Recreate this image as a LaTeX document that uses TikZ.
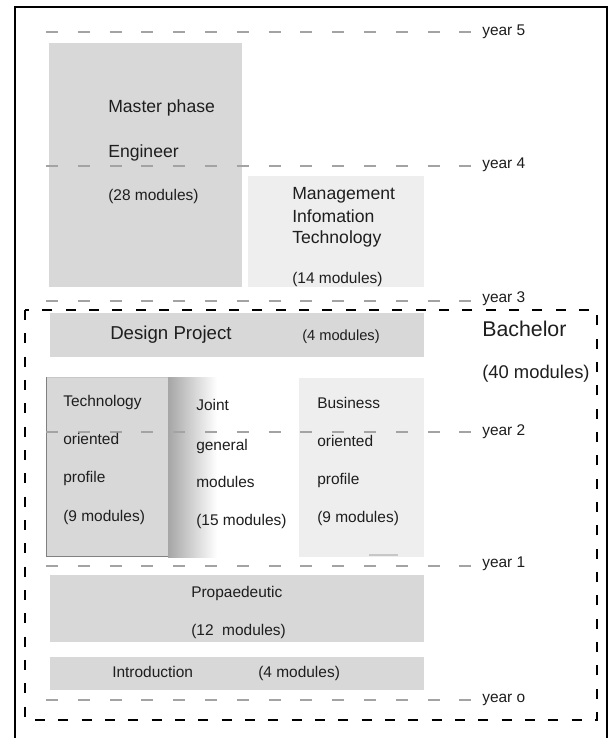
\documentclass[tikz,border=0pt]{standalone}
\usepackage{fontspec}
\setmainfont{Liberation Sans}
\definecolor{boxgray}{HTML}{D8D8D8}
\definecolor{boxlight}{HTML}{EEEEEE}
\definecolor{txt}{HTML}{1E1E1E}
\begin{document}
\begin{tikzpicture}[x=0.75pt,y=-0.75pt,
  lbl/.style={anchor=mid west, inner sep=0pt, yshift=-1.3pt, text=txt, font=\fontsize{11.6}{13}\selectfont},
  big/.style={font=\fontsize{13.2}{15}\selectfont},
  small/.style={font=\fontsize{11}{13}\selectfont},
  yearline/.style={draw=black!36, line width=0.85pt, dash pattern=on 9pt off 14.85pt},
  bachframe/.style={draw=black, line width=1.9pt, dash pattern=on 7.5pt off 10pt},
]
\useasboundingbox (0,0) rectangle (609,738);
\fill[white] (0,0) rectangle (609,738);

% outer frame
\draw[line width=1.5pt] (15,745) -- (15,7) -- (606.5,7) -- (606.5,745);

% module boxes
\fill[boxgray] (49,43) rectangle (242,287);
\fill[boxlight] (248,176) rectangle (424,287);
\fill[boxgray] (50,313) rectangle (424,357);
\fill[boxgray] (46,377) rectangle (168,557);
\shade[left color=black!35, right color=white] (168,377) rectangle (217,557);
\draw[black!50, line width=0.75pt] (46.5,377) -- (46.5,556.5) -- (168,556.5);
\draw[black!22, line width=0.6pt] (46.5,377.5) -- (168,377.5);
\fill[boxlight] (299,378) rectangle (424,557);
\draw[black!22, line width=1.1pt] (369,555) -- (398,555);
\fill[boxgray] (50,575) rectangle (424,642);
\fill[boxgray] (50,657) rectangle (424,690);

% year lines
\foreach \nm/\yy in {y5/32, y4/166, y3/301, y2/432, y1/566, y0/700}{
  \coordinate (\nm s) at (46,\yy);
  \coordinate (\nm e) at (472,\yy);
  \draw[yearline] (\nm s) -- (\nm e);
}

% bachelor frame
\draw[bachframe] (25,310) rectangle (597,720);

% year labels
\node[lbl] (ly5) at (482,30) {year 5};
\node[lbl] (ly4) at (482,163) {year 4};
\node[lbl] (ly3) at (482,297) {year 3};
\node[lbl] (ly2) at (482,430) {year 2};
\node[lbl] (ly1) at (482,562) {year 1};
\node[lbl] (ly0) at (482,697) {year o};

% bachelor label
\node[lbl, font=\fontsize{16}{18}\selectfont] (bach) at (482,331) {Bachelor};
\node[lbl, font=\fontsize{13.8}{16}\selectfont] (bachm) at (482,373) {(40 modules)};

% master
\node[lbl,big] (mp) at (108,107) {Master phase};
\node[lbl,big] (me) at (108,152) {Engineer};
\node[lbl] (mm) at (108,195) {(28 modules)};

% management
\node[lbl,big] (mg1) at (292,194) {Management};
\node[lbl,big] (mg2) at (292,217) {Infomation};
\node[lbl,big] (mg3) at (292,238) {Technology};
\node[lbl] (mg4) at (292,278) {(14 modules)};

% design project
\node[lbl, font=\fontsize{14}{16}\selectfont] (dp) at (110,334) {Design Project};
\node[lbl,small] (dpm) at (302,335) {(4 modules)};

% technology profile
\node[lbl] (t1) at (63,401) {Technology};
\node[lbl] (t2) at (63,439) {oriented};
\node[lbl] (t3) at (63,477) {profile};
\node[lbl] (t4) at (63,516) {(9 modules)};

% joint
\node[lbl] (j1) at (196,405) {Joint};
\node[lbl] (j2) at (196,445) {general};
\node[lbl] (j3) at (196,482) {modules};
\node[lbl] (j4) at (196,520) {(15 modules)};

% business
\node[lbl] (b1) at (317,403) {Business};
\node[lbl] (b2) at (317,441) {oriented};
\node[lbl] (b3) at (317,479) {profile};
\node[lbl] (b4) at (317,517) {(9 modules)};

% propaedeutic
\node[lbl] (p1) at (191,592) {Propaedeutic};
\node[lbl] (p2) at (191,630) {(12\ \ modules)};

% introduction
\node[lbl] (i1) at (112,672) {Introduction};
\node[lbl] (i2) at (258,672) {(4 modules)};
\end{tikzpicture}
\end{document}
